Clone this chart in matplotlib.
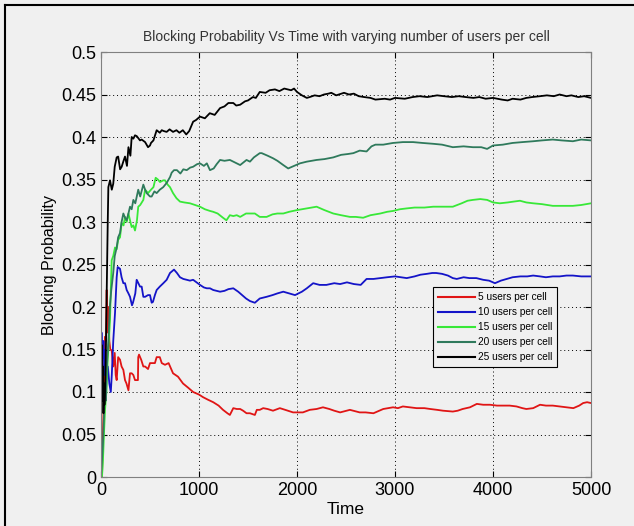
import matplotlib
matplotlib.use("Agg")
import matplotlib.pyplot as plt
from matplotlib.lines import Line2D

# data (time, blocking probability)
labels = ["5 users per cell", "10 users per cell", "15 users per cell",
          "20 users per cell", "25 users per cell"]
colors = ["#e01515", "#1414c8", "#38e838", "#2f7a5c", "#000000"]

t_5 = [0, 10, 20, 30, 41, 50, 58, 65, 75, 85, 95, 109, 125, 140, 150, 160, 175, 194, 210, 228,
       245, 260, 280, 296, 313, 330, 347, 377, 380, 388, 410, 432, 450, 480, 500, 550, 568, 600,
       620, 653, 690, 735, 786, 837, 890, 940, 1000, 1040, 1090, 1145, 1200, 1245, 1290, 1315,
       1350, 1385, 1420, 1450, 1485, 1520, 1570, 1590, 1620, 1655, 1700, 1755, 1825, 1880, 1960,
       2060, 2130, 2200, 2265, 2330, 2380, 2440, 2540, 2640, 2700, 2780, 2880, 2980, 3030, 3080,
       3150, 3220, 3300, 3360, 3430, 3490, 3590, 3640, 3690, 3765, 3835, 3900, 3970, 4040, 4105,
       4170, 4240, 4300, 4340, 4410, 4480, 4540, 4610, 4680, 4750, 4820, 4880, 4920, 4960, 5000]
p_5 = [0.0, 0.0, 0.05, 0.10, 0.165, 0.16, 0.22, 0.17, 0.20, 0.16, 0.15, 0.149, 0.13, 0.146, 0.12,
       0.114, 0.141, 0.138, 0.13, 0.126, 0.114, 0.11, 0.102, 0.122, 0.122, 0.12, 0.114, 0.114,
       0.141, 0.144, 0.138, 0.13, 0.13, 0.127, 0.134, 0.134, 0.141, 0.141, 0.134, 0.132, 0.134,
       0.122, 0.118, 0.11, 0.105, 0.1, 0.097, 0.094, 0.091, 0.088, 0.084, 0.079, 0.075, 0.073,
       0.081, 0.08, 0.08, 0.078, 0.075, 0.075, 0.073, 0.079, 0.079, 0.081, 0.08, 0.078, 0.081,
       0.079, 0.076, 0.076, 0.079, 0.08, 0.082, 0.08, 0.078, 0.076, 0.079, 0.076, 0.076, 0.075,
       0.08, 0.082, 0.081, 0.083, 0.082, 0.081, 0.081, 0.08, 0.079, 0.078, 0.077, 0.078, 0.08,
       0.082, 0.086, 0.085, 0.085, 0.084, 0.084, 0.084, 0.083, 0.081, 0.08, 0.081, 0.085, 0.084,
       0.084, 0.083, 0.082, 0.081, 0.084, 0.087, 0.088, 0.087]

t_10 = [0, 5, 15, 25, 35, 45, 55, 70, 85, 100, 110, 125, 143, 160, 170, 194, 210, 228, 245, 262,
        280, 296, 316, 326, 350, 364, 377, 398, 415, 432, 450, 480, 500, 517, 530, 550, 568, 600,
        636, 670, 704, 745, 775, 806, 840, 875, 908, 940, 975, 1010, 1050, 1080, 1112, 1145, 1180,
        1215, 1260, 1300, 1350, 1400, 1440, 1480, 1520, 1570, 1620, 1690, 1750, 1800, 1860, 1920,
        1980, 2050, 2100, 2165, 2230, 2300, 2380, 2440, 2510, 2580, 2650, 2710, 2780, 2850, 2920,
        3000, 3060, 3120, 3200, 3260, 3325, 3380, 3420, 3480, 3540, 3590, 3630, 3700, 3760, 3830,
        3900, 3960, 4020, 4080, 4140, 4200, 4280, 4350, 4410, 4480, 4540, 4610, 4680, 4750, 4815,
        4900, 5000]
p_10 = [0.15, 0.17, 0.14, 0.16, 0.12, 0.15, 0.12, 0.13, 0.11, 0.10, 0.12, 0.16, 0.193, 0.235,
        0.247, 0.245, 0.235, 0.228, 0.228, 0.22, 0.216, 0.212, 0.202, 0.205, 0.216, 0.232, 0.229,
        0.224, 0.224, 0.212, 0.212, 0.214, 0.214, 0.205, 0.206, 0.214, 0.22, 0.224, 0.228, 0.232,
        0.24, 0.244, 0.24, 0.235, 0.233, 0.232, 0.231, 0.232, 0.229, 0.226, 0.223, 0.222, 0.222,
        0.22, 0.219, 0.218, 0.219, 0.221, 0.222, 0.218, 0.214, 0.21, 0.207, 0.205, 0.21, 0.212,
        0.214, 0.216, 0.218, 0.216, 0.214, 0.218, 0.222, 0.228, 0.226, 0.226, 0.228, 0.227, 0.229,
        0.227, 0.226, 0.233, 0.233, 0.234, 0.235, 0.236, 0.235, 0.234, 0.236, 0.238, 0.239, 0.24,
        0.24, 0.239, 0.237, 0.234, 0.233, 0.235, 0.234, 0.234, 0.232, 0.231, 0.228, 0.231, 0.233,
        0.235, 0.236, 0.236, 0.237, 0.236, 0.235, 0.236, 0.236, 0.237, 0.237, 0.236, 0.236]

t_15 = [0, 10, 20, 30, 41, 55, 68, 80, 92, 100, 109, 125, 143, 160, 175, 194, 211, 230, 245, 262,
        280, 296, 313, 330, 347, 367, 380, 400, 432, 450, 480, 510, 535, 558, 580, 602, 635, 653,
        680, 704, 735, 770, 806, 850, 908, 960, 1010, 1060, 1112, 1145, 1190, 1245, 1280, 1315,
        1350, 1385, 1420, 1480, 1520, 1570, 1620, 1690, 1750, 1800, 1860, 1920, 2000, 2100, 2200,
        2280, 2370, 2450, 2540, 2600, 2675, 2750, 2850, 2920, 2980, 3050, 3120, 3200, 3300, 3390,
        3500, 3590, 3680, 3740, 3795, 3870, 3940, 4000, 4070, 4150, 4210, 4275, 4340, 4410, 4500,
        4610, 4700, 4815, 4900, 5000]
p_15 = [0.0, 0.0, 0.02, 0.05, 0.079, 0.1, 0.138, 0.16, 0.185, 0.22, 0.255, 0.26, 0.27, 0.268,
        0.279, 0.282, 0.299, 0.296, 0.306, 0.3, 0.31, 0.302, 0.294, 0.296, 0.29, 0.302, 0.318, 0.32,
        0.326, 0.338, 0.334, 0.338, 0.341, 0.352, 0.35, 0.347, 0.349, 0.349, 0.344, 0.341, 0.334,
        0.328, 0.324, 0.323, 0.322, 0.32, 0.318, 0.315, 0.313, 0.312, 0.31, 0.305, 0.302, 0.308,
        0.307, 0.308, 0.306, 0.31, 0.31, 0.31, 0.306, 0.306, 0.309, 0.31, 0.31, 0.312, 0.314, 0.316,
        0.318, 0.314, 0.31, 0.308, 0.306, 0.306, 0.305, 0.308, 0.31, 0.312, 0.313, 0.315, 0.316,
        0.317, 0.317, 0.318, 0.318, 0.318, 0.322, 0.325, 0.326, 0.327, 0.326, 0.323, 0.322, 0.323,
        0.324, 0.325, 0.323, 0.322, 0.321, 0.319, 0.319, 0.319, 0.32, 0.322]

t_20 = [0, 10, 20, 30, 40, 50, 60, 75, 90, 105, 125, 140, 160, 175, 194, 210, 228, 245, 262, 280,
        296, 313, 330, 350, 380, 400, 432, 450, 466, 500, 517, 545, 568, 600, 635, 670, 705, 721,
        745, 775, 810, 840, 875, 910, 940, 980, 1010, 1050, 1080, 1112, 1150, 1180, 1215, 1260,
        1315, 1350, 1385, 1420, 1485, 1520, 1560, 1620, 1640, 1700, 1755, 1800, 1860, 1910, 1950,
        2030, 2100, 2200, 2280, 2370, 2450, 2520, 2575, 2640, 2710, 2760, 2800, 2880, 2980, 3080,
        3185, 3280, 3390, 3480, 3590, 3700, 3795, 3880, 3940, 4000, 4100, 4200, 4300, 4410, 4500,
        4610, 4700, 4815, 4900, 5000]
p_20 = [0.0, 0.02, 0.04, 0.07, 0.11, 0.09, 0.13, 0.16, 0.2, 0.22, 0.24, 0.26, 0.27, 0.282, 0.287,
        0.30, 0.31, 0.305, 0.302, 0.31, 0.318, 0.315, 0.326, 0.322, 0.338, 0.33, 0.344, 0.338,
        0.334, 0.33, 0.33, 0.336, 0.334, 0.338, 0.341, 0.346, 0.353, 0.358, 0.361, 0.361, 0.357,
        0.362, 0.361, 0.364, 0.365, 0.368, 0.369, 0.366, 0.369, 0.361, 0.363, 0.368, 0.373, 0.372,
        0.373, 0.371, 0.369, 0.367, 0.373, 0.371, 0.376, 0.381, 0.381, 0.378, 0.375, 0.372, 0.367,
        0.363, 0.365, 0.369, 0.371, 0.373, 0.374, 0.376, 0.379, 0.38, 0.381, 0.384, 0.383, 0.389,
        0.391, 0.391, 0.393, 0.394, 0.394, 0.393, 0.392, 0.391, 0.388, 0.389, 0.388, 0.388, 0.386,
        0.39, 0.391, 0.393, 0.394, 0.395, 0.396, 0.397, 0.396, 0.395, 0.397, 0.396]

t_25 = [0, 5, 10, 15, 20, 25, 30, 35, 41, 50, 58, 68, 75, 92, 110, 125, 140, 160, 175, 195, 211,
        230, 245, 265, 280, 300, 313, 330, 347, 365, 398, 415, 450, 480, 500, 510, 535, 568, 600,
        620, 640, 670, 700, 735, 770, 800, 835, 870, 900, 940, 970, 1010, 1060, 1110, 1160, 1215,
        1260, 1300, 1350, 1380, 1420, 1470, 1500, 1550, 1580, 1620, 1680, 1720, 1775, 1820, 1870,
        1940, 1970, 2000, 2050, 2100, 2130, 2180, 2230, 2275, 2320, 2350, 2400, 2480, 2530, 2580,
        2630, 2685, 2750, 2800, 2895, 2950, 3000, 3100, 3180, 3250, 3330, 3430, 3500, 3580, 3650,
        3720, 3800, 3860, 3925, 4000, 4090, 4150, 4200, 4280, 4340, 4400, 4480, 4550, 4620, 4680,
        4750, 4800, 4870, 4930, 5000]
p_25 = [0.15, 0.11, 0.155, 0.09, 0.13, 0.075, 0.11, 0.085, 0.10, 0.15, 0.216, 0.294, 0.341, 0.349,
        0.338, 0.345, 0.365, 0.376, 0.377, 0.362, 0.365, 0.372, 0.377, 0.366, 0.388, 0.378, 0.40,
        0.398, 0.402, 0.401, 0.396, 0.397, 0.394, 0.388, 0.39, 0.393, 0.396, 0.408, 0.405, 0.408,
        0.407, 0.406, 0.409, 0.406, 0.408, 0.405, 0.408, 0.403, 0.407, 0.418, 0.42, 0.424, 0.422,
        0.428, 0.426, 0.434, 0.436, 0.44, 0.44, 0.437, 0.438, 0.442, 0.443, 0.447, 0.446, 0.453,
        0.452, 0.455, 0.456, 0.454, 0.457, 0.455, 0.457, 0.453, 0.449, 0.446, 0.447, 0.449, 0.448,
        0.45, 0.451, 0.452, 0.449, 0.452, 0.45, 0.451, 0.448, 0.447, 0.446, 0.444, 0.445, 0.444,
        0.446, 0.445, 0.447, 0.448, 0.447, 0.449, 0.448, 0.447, 0.448, 0.447, 0.446, 0.447, 0.445,
        0.446, 0.444, 0.443, 0.445, 0.444, 0.446, 0.447, 0.448, 0.449, 0.448, 0.45, 0.448, 0.449,
        0.447, 0.448, 0.446]

series = [(t_5, p_5), (t_10, p_10), (t_15, p_15), (t_20, p_20), (t_25, p_25)]

bg = "#f0f0f0"
plt.rcParams["font.family"] = ["Liberation Sans", "DejaVu Sans"]

fig = plt.figure(figsize=(6.34, 5.26), dpi=100, facecolor=bg)
ax = fig.add_axes([101 / 634, 1 - 477 / 526, 490 / 634, 425 / 526])
ax.set_facecolor(bg)

for (t, p), c, lab in zip(series, colors, labels):
    ax.plot(t, p, color=c, lw=1.3, label=lab)

ax.set_xlim(0, 5000)
ax.set_ylim(0, 0.5)
ax.set_xticks([0, 1000, 2000, 3000, 4000, 5000])
ax.set_yticks([0, 0.05, 0.1, 0.15, 0.2, 0.25, 0.3, 0.35, 0.4, 0.45, 0.5])
ax.set_yticklabels(["0", "0.05", "0.1", "0.15", "0.2", "0.25", "0.3", "0.35", "0.4", "0.45", "0.5"])
ax.grid(True, color="black", linestyle=(0, (1, 3)), linewidth=0.7)
ax.tick_params(direction="in", length=4, labelsize=13, top=True, right=True, color="black")
for s in ax.spines.values():
    s.set_color("#808080")

ax.set_title("Blocking Probability Vs Time with varying number of users per cell",
             fontsize=10, color="#333333", pad=8)
ax.set_xlabel("Time", fontsize=12.5, labelpad=2)
ax.set_ylabel("Blocking Probability", fontsize=11.5, labelpad=3)

leg = ax.legend(loc="upper left", bbox_to_anchor=(0.678, 0.447), fontsize=7.3,
                handlelength=3.6, frameon=True, fancybox=False, framealpha=1,
                edgecolor="black", facecolor=bg, borderpad=0.5, labelspacing=0.5,
                handletextpad=0.3, borderaxespad=0)
leg.get_frame().set_linewidth(0.8)
for h in leg.get_lines():
    h.set_linewidth(1.5)

# frame around the figure
fig.add_artist(Line2D([5 / 634, 5 / 634], [0, 1 - 5 / 526], color="black", lw=1.5))
fig.add_artist(Line2D([5 / 634, 1], [1 - 5 / 526, 1 - 5 / 526], color="black", lw=1.5))

fig.savefig("out.png", dpi=100, facecolor=bg)
